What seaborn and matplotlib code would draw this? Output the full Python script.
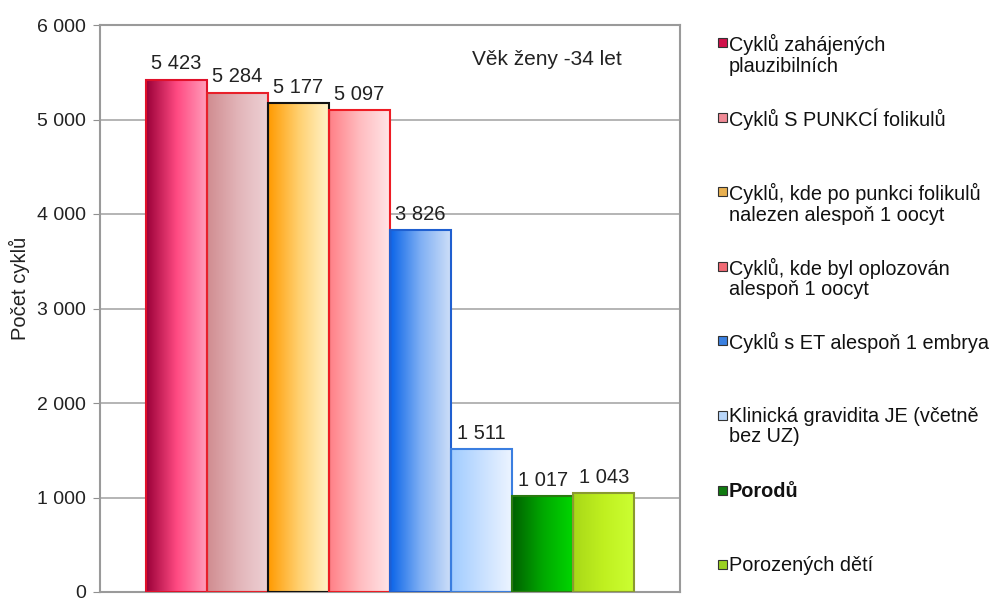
import numpy as np
import pandas as pd

import matplotlib
matplotlib.use("Agg")
import matplotlib.pyplot as plt
from matplotlib.patches import Rectangle
from matplotlib.colors import LinearSegmentedColormap
from matplotlib.ticker import FuncFormatter
import seaborn as sns

# data
labels = ["Cyklů zahájených\nplauzibilních",
          "Cyklů S PUNKCÍ folikulů",
          "Cyklů, kde po punkci folikulů\nnalezen alespoň 1 oocyt",
          "Cyklů, kde byl oplozován\nalespoň 1 oocyt",
          "Cyklů s ET alespoň 1 embrya",
          "Klinická gravidita JE (včetně\nbez UZ)",
          "Porodů",
          "Porozených dětí"]
values = [5423, 5284, 5177, 5097, 3826, 1511, 1017, 1043]
title_text = "Věk ženy -34 let"
ylabel = "Počet cyklů"
yticks = [0, 1000, 2000, 3000, 4000, 5000, 6000]

# gradient stops (left -> right) and edge colour for each bar
grads = [["#9a0038", "#ff4a82", "#ffa0bc"],
         ["#d08c90", "#e2b4b8", "#eed2d6"],
         ["#ff9a00", "#ffd070", "#fff4cc"],
         ["#ff7f86", "#ffbcc0", "#ffe6e8"],
         ["#0a64e8", "#80b0f4", "#d0e0f8"],
         ["#a0ccff", "#c8e0ff", "#eef5ff"],
         ["#006000", "#00a800", "#00d800"],
         ["#a8d818", "#c0f020", "#ccff33"]]
edges = ["#e0102a", "#e8202a", "#111111", "#ee1c24",
         "#1f5fd0", "#3a7ee0", "#2a7a10", "#8a9a30"]
legend_colors = ["#d0104a", "#f08a96", "#e8b050", "#f06a74",
                 "#3a80e0", "#b8d6fa", "#107a10", "#9ad020"]

plt.rcParams["font.family"] = ["Liberation Sans", "DejaVu Sans"]

df = pd.DataFrame({"grp": [""] * len(values), "series": labels, "value": values})

fig = plt.figure(figsize=(9.92, 5.99), dpi=100)
ax = fig.add_axes([100 / 992, 7 / 599, 580 / 992, 567 / 599])

sns.barplot(data=df, x="grp", y="value", hue="series", hue_order=labels,
            palette=[g[1] for g in grads], width=0.843, legend=False,
            ax=ax, zorder=2)

ax.set_ylim(0, 6000)
ax.set_xlim(-0.5, 0.5)
ax.set_yticks(yticks)
ax.yaxis.set_major_formatter(FuncFormatter(lambda v, p: f"{int(v):,}".replace(",", " ")))
ax.tick_params(axis="y", labelsize=14, length=5, color="#909090", pad=5,
               labelcolor="#222222")
ax.tick_params(axis="x", length=0, labelbottom=False)
ax.set_xlabel("")
ax.set_ylabel(ylabel, fontsize=14.5, color="#222222")
ax.yaxis.set_label_coords(-0.121, 0.536)
ax.grid(axis="y", color="#a0a0a0", linewidth=1.1, zorder=0)
ax.set_axisbelow(True)
for s in ax.spines.values():
    s.set_color("#9a9a9a")
    s.set_linewidth(1.5)

# gradient fill + value labels
bars = [p for p in ax.patches if isinstance(p, Rectangle)][:len(values)]
bars.sort(key=lambda p: p.get_x())
for i, p in enumerate(bars):
    x0, w, h = p.get_x(), p.get_width(), p.get_height()
    cmap = LinearSegmentedColormap.from_list(f"g{i}", grads[i])
    im = ax.imshow(np.linspace(0, 1, 256).reshape(1, -1), cmap=cmap,
                   extent=[x0, x0 + w, 0, h], aspect="auto", zorder=2)
    im.set_clip_path(p)
    p.set_facecolor("none")
    p.set_edgecolor(edges[i])
    p.set_linewidth(1.5)
    p.set_zorder(3)
    ax.annotate(f"{values[i]:,}".replace(",", " "), (x0 + w / 2, h),
                xytext=(0, 4.5), textcoords="offset points",
                ha="center", va="bottom", fontsize=14.5, color="#222222")

ax.set_xlim(-0.5, 0.5)
ax.set_ylim(0, 6000)
ax.text(0.77, 0.94, title_text, transform=ax.transAxes, ha="center",
        va="center", fontsize=15, color="#222222")

# legend drawn by hand so entries are spaced like the original
for i, lab in enumerate(labels):
    ytop = 599 - (34 + i * 74.6)
    fig.add_artist(Rectangle((718 / 992, (ytop - 13) / 599), 9 / 992, 9 / 599,
                             transform=fig.transFigure, facecolor=legend_colors[i],
                             edgecolor="#333333", linewidth=0.8))
    fig.text(729 / 992, ytop / 599, lab, ha="left", va="top", fontsize=14.3,
             color="#111111", linespacing=1.1,
             fontweight="bold" if lab == "Porodů" else "normal")

fig.savefig("out.png", dpi=100)
